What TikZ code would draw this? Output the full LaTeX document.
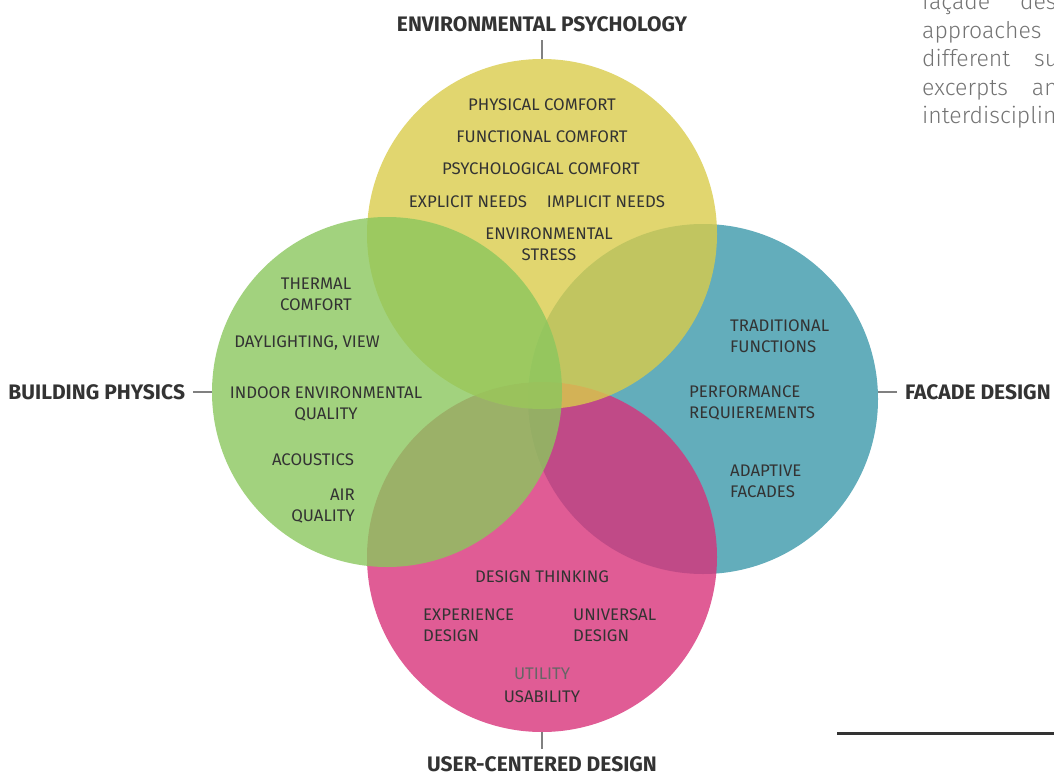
\documentclass[tikz,border=0pt]{standalone}
\usepackage{fontspec}
\setmainfont{Fira Sans}
\newfontfamily\lightfont{Fira Sans Light}
\usetikzlibrary{positioning}
\definecolor{ycol}{HTML}{D9CC4B}
\definecolor{gcol}{HTML}{8BC75E}
\definecolor{tcol}{HTML}{3C98AA}
\definecolor{pcol}{HTML}{D8337A}
\definecolor{txt}{HTML}{333333}

\begin{document}
\begin{tikzpicture}
		[x=1pt, y=-1pt, node distance={19pt},
		main/.style = {circle, minimum size=350pt, inner sep=0pt, outer sep=0pt, fill opacity=0.8},
		item/.style = {text=txt, font=\fontsize{16.8}{21}\selectfont, align=center, inner sep=0pt},
		head/.style = {text=txt, font=\fontsize{21}{24}\selectfont\bfseries, inner sep=0pt, outer sep=8pt},
		tick/.style = {draw=gray, line width=1.2pt}]
	\useasboundingbox (0,0) rectangle (1054,776);
	\node[main, fill=tcol] (3) at (703,399) {};
	\node[main, fill=pcol] (4) at (542,557) {};
	\node[main, fill=ycol] (1) at (542,234) {};
	\node[main, fill=gcol] (2) at (387,392) {};
	\node[head] (ep) [above = of 1] {ENVIRONMENTAL PSYCHOLOGY};
	\node[head] (bp) [left = of 2] {BUILDING PHYSICS};
	\node[head, yshift=7pt] (fd) [right = of 3] {FACADE DESIGN};
	\node[head] (ucd) [below = 17pt of 4] {USER-CENTERED DESIGN};
	\node[item] (p1) at (542,105) {PHYSICAL COMFORT};
	\node[item] (p2) at (542,137) {FUNCTIONAL COMFORT};
	\node[item] (p3) at (541,169) {PSYCHOLOGICAL COMFORT};
	\node[item] (p4) at (468,202) {EXPLICIT NEEDS};
	\node[item] (p5) at (606,202) {IMPLICIT NEEDS};
	\node[item] (p6) at (549,244) {ENVIRONMENTAL\\STRESS};
	\node[item] (b1) at (316,294) {THERMAL\\COMFORT};
	\node[item] (b2) at (307,343) {DAYLIGHTING, VIEW};
	\node[item] (b3) at (326,404) {INDOOR ENVIRONMENTAL\\QUALITY};
	\node[item] (b4) at (313,460) {ACOUSTICS};
	\node[item, anchor=east, align=right] (b5) at (355,506) {AIR\\QUALITY};
	\node[item, anchor=west, align=left] (f1) at (730,336) {TRADITIONAL\\FUNCTIONS};
	\node[item, anchor=west, align=left] (f2) at (689,403) {PERFORMANCE\\REQUIEREMENTS};
	\node[item, anchor=west, align=left] (f3) at (730,481) {ADAPTIVE\\FACADES};
	\node[item] (u1) at (542,577) {DESIGN THINKING};
	\node[item, anchor=west, align=left] (u2) at (423,625) {EXPERIENCE\\DESIGN};
	\node[item, anchor=west, align=left] (u3) at (573,625) {UNIVERSAL\\DESIGN};
	\node[item, text=black!60] (u4) at (542,674) {UTILITY};
	\node[item] (u5) at (542,697) {USABILITY};
	\node[anchor=north west, inner sep=0pt, align=left, text=black!55,
		font=\lightfont\fontsize{23}{28.5}\selectfont] (txt) at (922,-8)
		{façade\hspace{30pt}design,\\approaches\\different\hspace{24pt}subjects\\excerpts\hspace{24pt}and\\interdisciplinary};
	\coordinate (r1) at (837,733);
	\coordinate (r2) at (1054,733);
	\draw[tick] (1) -- (ep);
	\draw[tick] (2) -- (bp);
	\draw[tick] (fd) -- (fd -| 3.east);
	\draw[tick] (4) -- (ucd);
	\draw[line width=3pt, txt] (r1) -- (r2);
\end{tikzpicture}
\end{document}
